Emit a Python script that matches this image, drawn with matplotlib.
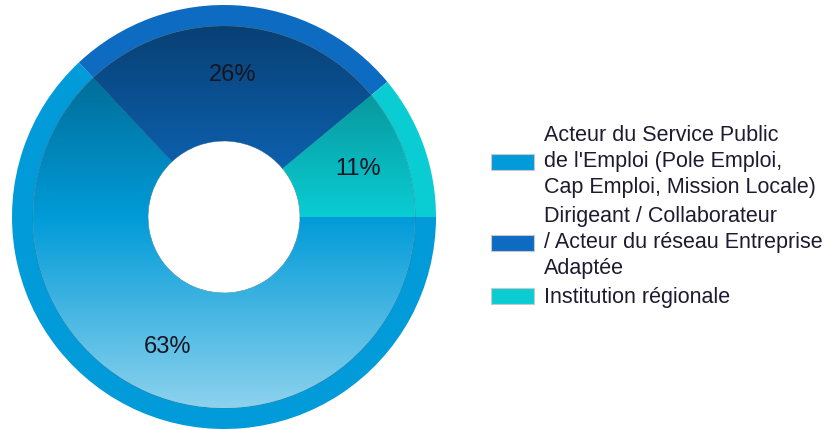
import numpy as np
import matplotlib.pyplot as plt
from matplotlib.colors import to_rgb

plt.rcParams['font.family'] = ['Liberation Sans', 'DejaVu Sans']

labels = ["Acteur du Service Public\nde l'Emploi (Pole Emploi,\nCap Emploi, Mission Locale)",
          "Dirigeant / Collaborateur\n/ Acteur du réseau Entreprise\nAdaptée",
          "Institution régionale"]
values = [63, 26, 11]
pct_labels = ['63%', '26%', '11%']
colors = ['#009bd8', '#0e6bc2', '#0acdd4']

fig = plt.figure(figsize=(8.37, 4.30), dpi=100)
ax = fig.add_axes([0, 0, 1, 1])

cx, cy = 224, 213
r_out, r_mid, r_in = 212, 191, 76

# outer solid rim
rim, _ = ax.pie(values, colors=colors, startangle=0, counterclock=False,
                center=(cx, cy), radius=r_out, frame=True,
                wedgeprops=dict(width=r_out - r_mid, edgecolor='none'))

# inner ring, filled with a vertical gradient
inner, _ = ax.pie(values, colors=['none'] * 3, startangle=0, counterclock=False,
                  center=(cx, cy), radius=r_mid, frame=True,
                  wedgeprops=dict(width=r_mid - r_in, edgecolor='#4a6a80', linewidth=0.4))

t = np.linspace(0, 1, 256)  # 0 = bottom, 1 = top
fac = 0.6 + 0.8 * (1 - t)
for w, c in zip(inner, colors):
    base = np.array(to_rgb(c))
    dark = base[None, :] * np.minimum(fac, 1)[:, None]
    mixw = (np.clip((fac - 1) / 0.4, 0, 1) * 0.55)[:, None]
    light = base[None, :] + (1 - base[None, :]) * mixw
    img = np.where((fac <= 1)[:, None], dark, light)[:, None, :]
    im = ax.imshow(img, extent=(cx - r_mid, cx + r_mid, cy - r_mid, cy + r_mid),
                   origin='lower', aspect='auto', zorder=1.5, interpolation='bilinear')
    im.set_clip_path(w)

# percent labels
ang0 = 0
for v, s in zip(values, pct_labels):
    mid = np.deg2rad(ang0 - v * 3.6 / 2)
    ang0 -= v * 3.6
    ax.text(cx + 142 * np.cos(mid), cy + 142 * np.sin(mid), s,
            ha='center', va='center', fontsize=17, color='#151520', zorder=3)

ax.set_xlim(0, 837)
ax.set_ylim(0, 430)
ax.set_aspect('equal')
ax.axis('off')

leg = ax.legend(rim, labels, loc='upper left', bbox_to_anchor=(491 / 837, 1 - 125 / 430),
                frameon=False, fontsize=15.5, handlelength=2.0, handleheight=0.75,
                handletextpad=0.45, labelspacing=0.4, borderpad=0, borderaxespad=0)
for h in leg.legend_handles:
    h.set_edgecolor('#c8c8c8')
    h.set_linewidth(0.8)
for tx in leg.get_texts():
    tx.set_linespacing(1.3)
    tx.set_color('#1e1a30')

fig.savefig('out.png', dpi=100)
